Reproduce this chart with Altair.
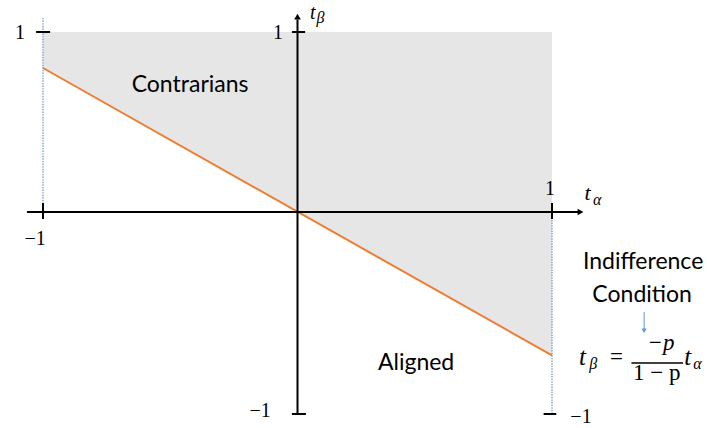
import altair as alt
import pandas as pd

# ---- values -------------------------------------------------------------
# indifference line t_beta = -p/(1-p) * t_alpha, end points on t_alpha = -1 and 1
line_x = [-1.0, 1.0]
line_y = [0.8, -0.71]
region_top = 1.0

# main axes (t_alpha horizontal, t_beta vertical)
h_axis_x = [-1.063, 1.11]
v_axis_y = [-1.005, 1.07]
arrow_x = [1.112, 0.0]
arrow_y = [0.0, 1.085]
arrow_shape = ["triangle-right", "triangle-up"]

# short tick segments: x, x2, y, y2
tick_x = [-1.027, -0.022, -0.022, 0.967, -1.0, 1.0]
tick_x2 = [-0.972, 0.030, 0.033, 1.017, -1.0, 1.0]
tick_y = [1.0, 1.0, -1.0, -1.0, 0.05, 0.05]
tick_y2 = [1.0, 1.0, -1.0, -1.0, -0.035, -0.035]

# dotted guides at t_alpha = -1 and t_alpha = 1
guide_x = [-1.0, 1.0]
guide_y = [1.078, -0.04]
guide_y2 = [0.05, -0.995]

# tick labels
tick_labels = ["1", "1", "\u22121", "1", "\u22121", "\u22121"]
tick_label_x = [-1.090, -0.077, -1.031, 0.992, -0.147, 1.114]
tick_label_y = [0.961, 0.961, -0.163, 0.094, -1.015, -1.045]

# region names
region_labels = ["Contrarians", "Aligned", "Indifference", "Condition"]
region_label_x = [-0.422, 0.466, 1.358, 1.354]
region_label_y = [0.667, -0.782, -0.282, -0.446]

# italic math symbols: main letters
math_text = ["t", "t", "t", "t", "\u2212p"]
math_x = [1.128, 0.049, 1.106, 1.520, 1.428]
math_y = [0.067, 1.070, -0.757, -0.757, -0.683]
math_size = [22, 20, 25, 25, 23]
math_align = ["left", "left", "left", "left", "center"]

# upright parts of the formula
plain_text = ["=", "1 \u2212 p"]
plain_x = [1.253, 1.412]
plain_y = [-0.752, -0.832]

# subscripts
sub_text = ["\u03b1", "\u03b2", "\u03b2", "\u03b1"]
sub_x = [1.161, 0.075, 1.146, 1.555]
sub_y = [0.039, 1.050, -0.777, -0.777]

# fraction bar
frac_x = [1.312]
frac_x2 = [1.515]
frac_y = [-0.748]

# pointer from the caption down to the formula
pointer_x = [1.362]
pointer_y = [-0.495]
pointer_y2 = [-0.58]
pointer_tip_y = [-0.588]

# ---- scales -------------------------------------------------------------
xs = alt.Scale(domain=[-1, 1], range=[43, 552], zero=False, nice=False)
ys = alt.Scale(domain=[-1, 0, 1], range=[414, 212, 32], zero=False, nice=False)


def X(f="x"):
    return alt.X(f"{f}:Q", scale=xs, axis=None)


def Y(f="y"):
    return alt.Y(f"{f}:Q", scale=ys, axis=None)


BLACK = "#000000"
MATH_FONT = "Liberation Serif"
TEXT_FONT = "Lato"

region = alt.Chart(
    pd.DataFrame({"x": line_x, "y": line_y, "y2": [region_top] * len(line_x)})
).mark_area(color="#e6e6e6").encode(x=X(), y=Y(), y2="y2:Q")

guides = alt.Chart(
    pd.DataFrame({"x": guide_x, "y": guide_y, "y2": guide_y2})
).mark_rule(color="#7d9bd3", strokeWidth=1.4, strokeDash=[1.4, 1.2]).encode(
    x=X(), y=Y(), y2="y2:Q"
)

indiff = alt.Chart(pd.DataFrame({"x": line_x, "y": line_y})).mark_line(
    color="#ed7d31", strokeWidth=2
).encode(x=X(), y=Y())

h_axis = alt.Chart(
    pd.DataFrame({"x": [h_axis_x[0]], "x2": [h_axis_x[1]], "y": [0.0]})
).mark_rule(color=BLACK, strokeWidth=2).encode(x=X(), x2="x2:Q", y=Y())

v_axis = alt.Chart(
    pd.DataFrame({"x": [0.0], "y": [v_axis_y[0]], "y2": [v_axis_y[1]]})
).mark_rule(color=BLACK, strokeWidth=2).encode(x=X(), y=Y(), y2="y2:Q")

arrows = alt.Chart(
    pd.DataFrame({"x": arrow_x, "y": arrow_y, "shape": arrow_shape})
).mark_point(filled=True, color=BLACK, size=45, opacity=1).encode(
    x=X(), y=Y(), shape=alt.Shape("shape:N", scale=None)
)

ticks = alt.Chart(
    pd.DataFrame({"x": tick_x, "x2": tick_x2, "y": tick_y, "y2": tick_y2})
).mark_rule(color=BLACK, strokeWidth=2).encode(
    x=X(), x2="x2:Q", y=Y(), y2="y2:Q"
)

tick_text = alt.Chart(
    pd.DataFrame({"x": tick_label_x, "y": tick_label_y, "t": tick_labels})
).mark_text(
    font=MATH_FONT, fontSize=20, color=BLACK, align="center", baseline="alphabetic"
).encode(x=X(), y=Y(), text="t:N")

region_text = alt.Chart(
    pd.DataFrame({"x": region_label_x, "y": region_label_y, "t": region_labels})
).mark_text(
    font=TEXT_FONT, fontSize=23, color=BLACK, align="center", baseline="alphabetic"
).encode(x=X(), y=Y(), text="t:N")

math_df = pd.DataFrame(
    {"x": math_x, "y": math_y, "t": math_text, "s": math_size, "a": math_align}
)
math_layers = []
for (size, align), grp in math_df.groupby(["s", "a"]):
    math_layers.append(
        alt.Chart(grp).mark_text(
            font=MATH_FONT, fontStyle="italic", fontSize=int(size), color=BLACK,
            align=align, baseline="alphabetic",
        ).encode(x=X(), y=Y(), text="t:N")
    )

plain = alt.Chart(pd.DataFrame({"x": plain_x, "y": plain_y, "t": plain_text})).mark_text(
    font=MATH_FONT, fontSize=23, color=BLACK, align="center", baseline="alphabetic",
).encode(x=X(), y=Y(), text="t:N")

subs = alt.Chart(pd.DataFrame({"x": sub_x, "y": sub_y, "t": sub_text})).mark_text(
    font=MATH_FONT, fontStyle="italic", fontSize=16, color=BLACK,
    align="left", baseline="alphabetic",
).encode(x=X(), y=Y(), text="t:N")

frac = alt.Chart(
    pd.DataFrame({"x": frac_x, "x2": frac_x2, "y": frac_y})
).mark_rule(color=BLACK, strokeWidth=1.5).encode(x=X(), x2="x2:Q", y=Y())

pointer = alt.Chart(
    pd.DataFrame({"x": pointer_x, "y": pointer_y, "y2": pointer_y2})
).mark_rule(color="#5b9bd5", strokeWidth=1).encode(x=X(), y=Y(), y2="y2:Q")

pointer_tip = alt.Chart(
    pd.DataFrame({"x": pointer_x, "y": pointer_tip_y})
).mark_point(shape="triangle-down", filled=True, color="#5b9bd5", size=25, opacity=1).encode(
    x=X(), y=Y()
)

chart = alt.layer(
    region, guides, indiff, h_axis, v_axis, arrows, ticks, tick_text,
    region_text, *math_layers, plain, subs, frac, pointer, pointer_tip,
).properties(
    width=707, height=428, padding=0, autosize=alt.AutoSizeParams(type="none"),
    background="white",
).configure_view(stroke=None)

chart.save("out.html", embed_options={"renderer": "svg", "actions": False})
